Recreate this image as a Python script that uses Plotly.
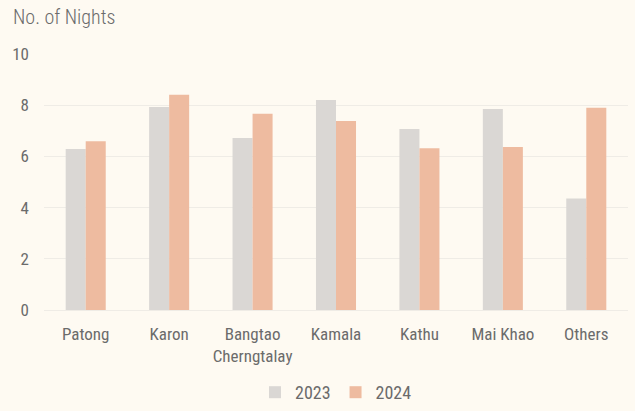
import plotly.graph_objects as go

categories = ["Patong", "Karon", "Bangtao<br>Cherngtalay", "Kamala", "Kathu", "Mai Khao", "Others"]
values_2023 = [6.29, 7.93, 6.72, 8.20, 7.07, 7.85, 4.36]
values_2024 = [6.59, 8.41, 7.67, 7.38, 6.32, 6.37, 7.90]
y_ticks = [0, 2, 4, 6, 8, 10]

FONT = "Liberation Sans Narrow, Arial Narrow, Roboto Condensed, sans-serif"
TXT = "#6b6b6b"

fig = go.Figure()
fig.add_trace(go.Bar(name="2023", x=categories, y=values_2023, marker_color="#DAD7D4",
                     marker_line_width=0))
fig.add_trace(go.Bar(name="2024", x=categories, y=values_2024, marker_color="#EEBBA0",
                     marker_line_width=0))

fig.update_layout(
    width=635, height=411,
    paper_bgcolor="#FEFAF2", plot_bgcolor="#FEFAF2",
    barmode="group", bargap=0.52, bargroupgap=0,
    margin=dict(l=44, r=7, t=54, b=101),
    font=dict(family=FONT, size=17, color=TXT),
    title=dict(text="No. of Nights", x=0, xref="container", xanchor="left", y=1, yref="container",
               yanchor="top", pad=dict(l=13, t=10), font=dict(family=FONT, size=20, color=TXT, weight=300)),
    legend=dict(orientation="h", x=0.5, xanchor="center", y=0, yref="container", yanchor="bottom",
                font=dict(family=FONT, size=18, color=TXT), itemwidth=30, traceorder="normal",
                tracegroupgap=0),
    showlegend=True,
)
fig.update_yaxes(range=[0, 10], tickvals=y_ticks, showgrid=True, gridcolor="#EFECE6", gridwidth=1,
                 zeroline=True, zerolinecolor="#EFECE6", zerolinewidth=1, showline=False,
                 ticks="", ticklabelstandoff=14, automargin=False, tickfont=dict(size=17, color=TXT))
fig.update_xaxes(showgrid=False, showline=False, ticks="", ticklabelstandoff=12, automargin=False,
                 tickfont=dict(size=17, color=TXT))

fig.write_html("out.html", config={"displayModeBar": False},
               post_script="document.body.style.margin='0';document.body.style.background='#FEFAF2';")
